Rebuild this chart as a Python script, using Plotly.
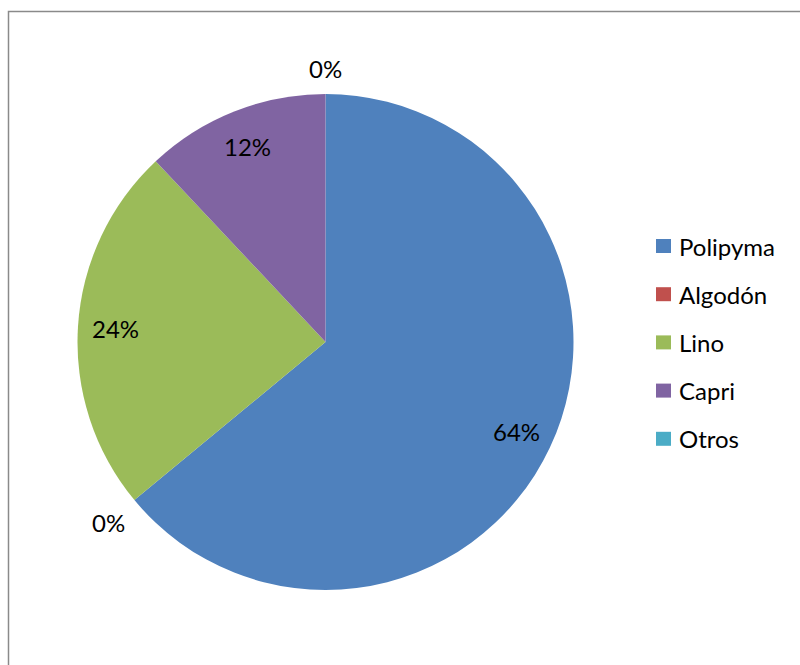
import math
import plotly.graph_objects as go

# Fiber share by material
labels = ["Polipyma", "Algodón", "Lino", "Capri", "Otros"]
values = [64, 0, 24, 12, 0]
colors = ["#4F81BD", "#C0504D", "#9BBB59", "#8064A2", "#4BACC6"]

W, H = 800, 665
FONT = dict(family="Lato, Carlito, Calibri, sans-serif", size=24, color="#000000")

# Pie geometry in pixels
cx, cy, r = 325.5, 342.0, 248.0


def px(x):
    return x / W


def py(y):
    return 1 - y / H


fig = go.Figure(
    go.Pie(
        labels=labels,
        values=values,
        marker=dict(colors=colors, line=dict(width=0)),
        sort=False,
        direction="clockwise",
        rotation=0,
        textinfo="none",
        hoverinfo="label+percent",
        showlegend=False,
        domain=dict(x=[px(cx - r), px(cx + r)], y=[py(cy + r), py(cy - r)]),
    )
)

annotations = []
shapes = []

# Percentage labels placed at the middle angle of each slice
total = sum(values)
cum = 0.0
for lab, v in zip(labels, values):
    frac = v / total
    mid = (cum + frac / 2) * 2 * math.pi
    cum += frac
    dx, dy = math.sin(mid), -math.cos(mid)
    pct = f"{round(frac * 100):.0f}%"
    if frac > 0:
        x, y = cx + 0.85 * r * dx, cy + 0.85 * r * dy
        xa, ya = "center", "middle"
    else:
        x, y = cx + (r + 9) * dx, cy + (r + 9) * dy
        xa = "center" if abs(dx) < 0.3 else ("left" if dx > 0 else "right")
        ya = "middle" if abs(dy) < 0.3 else ("top" if dy > 0 else "bottom")
    annotations.append(
        dict(x=px(x), y=py(y), xref="paper", yref="paper", text=pct,
             showarrow=False, xanchor=xa, yanchor=ya, font=FONT)
    )

# Legend: colored squares with names
leg_x, leg_y0, leg_step = 656, 246, 48.2
for i, (lab, col) in enumerate(zip(labels, colors)):
    yc = leg_y0 + i * leg_step
    shapes.append(
        dict(type="rect", xref="paper", yref="paper",
             x0=px(leg_x), x1=px(leg_x + 15), y0=py(yc + 7), y1=py(yc - 7),
             fillcolor=col, line=dict(width=0))
    )
    annotations.append(
        dict(x=px(leg_x + 21), y=py(yc), xref="paper", yref="paper", text=lab,
             showarrow=False, xanchor="left", yanchor="middle", font=FONT)
    )

# Chart area border
shapes.append(
    dict(type="rect", xref="paper", yref="paper",
         x0=px(8.5), x1=1.05, y0=-0.05, y1=py(11.5),
         line=dict(color="#8a8a8a", width=1.5), fillcolor="rgba(0,0,0,0)")
)

fig.update_layout(
    width=W,
    height=H,
    margin=dict(l=0, r=0, t=0, b=0),
    paper_bgcolor="white",
    plot_bgcolor="white",
    annotations=annotations,
    shapes=shapes,
    showlegend=False,
)

fig.write_html("out.html")
